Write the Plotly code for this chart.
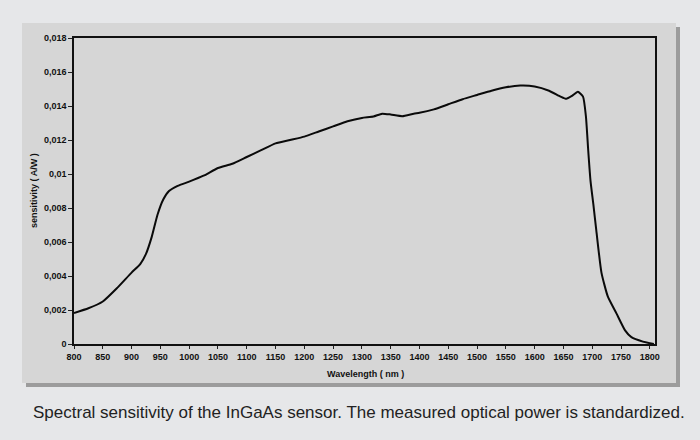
import plotly.graph_objects as go

# ---- data ----
wavelength_nm = [800, 825, 850, 875, 900, 915, 925, 935, 945, 955, 965, 980,
                 1000, 1025, 1050, 1075, 1100, 1125, 1150, 1175, 1200, 1225,
                 1250, 1275, 1300, 1320, 1335, 1350, 1370, 1390, 1400, 1425,
                 1450, 1475, 1500, 1525, 1550, 1575, 1600, 1625, 1645, 1655,
                 1665, 1675, 1684, 1689, 1693, 1697, 1702, 1707, 1716, 1727,
                 1742, 1757, 1768, 1788, 1807]
sensitivity_aw = [0.00182, 0.0021, 0.0025, 0.0033, 0.0042, 0.0047, 0.0053,
                  0.0063, 0.0076, 0.0085, 0.0090, 0.0093, 0.00955, 0.0099,
                  0.01035, 0.0106, 0.0110, 0.0114, 0.0118, 0.0120, 0.0122,
                  0.0125, 0.0128, 0.0131, 0.0133, 0.01338, 0.01355, 0.0135,
                  0.0134, 0.01355, 0.0136, 0.0138, 0.0141, 0.0144, 0.01465,
                  0.0149, 0.0151, 0.0152, 0.01515, 0.0149, 0.01455, 0.01442,
                  0.0146, 0.01484, 0.01455, 0.0134, 0.0114, 0.0096, 0.0082,
                  0.0067, 0.0042, 0.0028, 0.0018, 0.0008, 0.0004, 0.00014,
                  0.0]

x_tick_vals = list(range(800, 1801, 50))
x_tick_text = [str(v) for v in x_tick_vals]
y_tick_vals = [0, 0.002, 0.004, 0.006, 0.008, 0.01, 0.012, 0.014, 0.016, 0.018]
y_tick_text = ["0", "0,002", "0,004", "0,006", "0,008", "0,01", "0,012",
               "0,014", "0,016", "0,018"]

x_title = "Wavelength ( nm )"
y_title = "sensitivity ( A/W )"
caption = ("Spectral sensitivity of the InGaAs sensor. "
           "The measured optical power is standardized.")

# ---- layout geometry (pixels) ----
W, H = 700, 440
L, R, T, B = 74, 655, 38, 344


def px_x(p):
    return (p - L) / (R - L)


def px_y(p):
    return (B - p) / (B - T)


FONT = "Liberation Sans, Arial, sans-serif"
small_font = dict(family=FONT, size=9, color="#111111")

fig = go.Figure()
fig.add_trace(go.Scatter(
    x=wavelength_nm, y=sensitivity_aw, mode="lines",
    line=dict(color="#0a0a0a", width=2, shape="spline", smoothing=0.5),
    hoverinfo="skip", showlegend=False))

shapes = [
    # shadow
    dict(type="rect", xref="paper", yref="paper", layer="below",
         x0=px_x(26), x1=px_x(680), y0=px_y(387), y1=px_y(27),
         fillcolor="#9c9c9c", line=dict(width=0)),
    # panel
    dict(type="rect", xref="paper", yref="paper", layer="below",
         x0=px_x(22), x1=px_x(676), y0=px_y(383), y1=px_y(23),
         fillcolor="#d6d6d6", line=dict(width=0)),
]

annotations = [
    dict(text="<b>" + x_title + "</b>", xref="paper", yref="paper",
         x=px_x(365), y=px_y(374), showarrow=False, xanchor="center",
         yanchor="middle", font=small_font),
    dict(text="<b>" + y_title + "</b>", xref="paper", yref="paper",
         x=px_x(34), y=px_y(191), showarrow=False, xanchor="center",
         yanchor="middle", textangle=-90, font=small_font),
    dict(text=caption, xref="paper", yref="paper",
         x=px_x(359), y=px_y(412), showarrow=False, xanchor="center",
         yanchor="middle",
         font=dict(family=FONT, size=17, color="#222222")),
]

axis_common = dict(tickmode="array", ticks="outside", tickwidth=1,
                   tickcolor="#222", showgrid=False, zeroline=False,
                   showline=True, linecolor="#111", linewidth=1.5,
                   mirror=True,
                   tickfont=dict(family=FONT, size=9, color="#111",
                                 weight="bold"))

fig.update_layout(
    width=W, height=H,
    margin=dict(l=L, r=W - R, t=T, b=H - B, pad=0),
    paper_bgcolor="#e6e7e9",
    plot_bgcolor="rgba(0,0,0,0)",
    shapes=shapes,
    annotations=annotations,
    xaxis=dict(range=[800, 1809], tickvals=x_tick_vals, ticktext=x_tick_text,
               ticklen=3, **axis_common),
    yaxis=dict(range=[0, 0.018], tickvals=y_tick_vals, ticktext=y_tick_text,
               ticklen=4, **axis_common),
)

fig.write_html(
    "out.html",
    config={"displayModeBar": False},
    post_script=("document.body.style.margin='0';"
                 "document.body.style.background='#e6e7e9';"))
